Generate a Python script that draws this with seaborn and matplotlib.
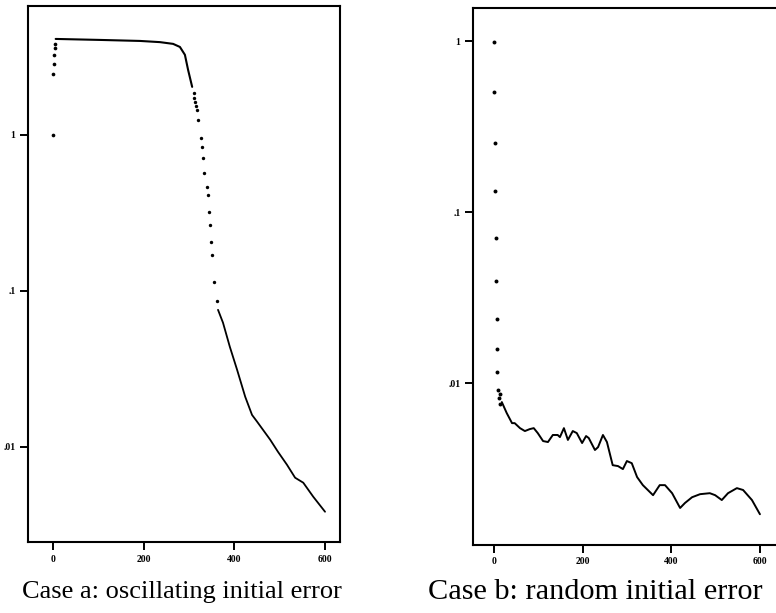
import matplotlib
matplotlib.use("Agg")
import matplotlib.pyplot as plt
import seaborn as sns
import pandas as pd
import numpy as np

# ---------------- data ----------------
# Case a: oscillating initial error
a_start_iter = [0, 1, 2, 3, 4, 5]
a_start_val = [1.0, 2.46, 2.85, 3.26, 3.6, 3.83]

a_plateau_iter = [6, 104, 192, 236, 265, 280, 291, 298, 307]
a_plateau_val = [4.12, 4.06, 4.0, 3.93, 3.83, 3.66, 3.26, 2.61, 2.03]

a_drop_iter = [310, 312, 314, 316, 318, 320, 326, 329, 331, 333, 340, 342,
               344, 346, 349, 351, 355, 362]
a_drop_val = [1.85, 1.72, 1.62, 1.53, 1.45, 1.25, 0.957, 0.838, 0.712, 0.57,
              0.464, 0.41, 0.321, 0.265, 0.206, 0.170, 0.114, 0.0863]

a_tail_iter = [364, 375, 390, 406, 424, 439, 450, 479, 496, 516, 534, 552,
               574, 600]
a_tail_val = [0.0755, 0.0624, 0.0438, 0.0312, 0.0209, 0.016, 0.0145, 0.0111,
              0.0093, 0.00767, 0.00633, 0.00588, 0.00478, 0.00383]

# Case b: random initial error
b_start_iter = [0, 1, 2, 3, 4, 5, 6, 7, 8, 9, 11, 13, 15]
b_start_val = [0.99, 0.503, 0.253, 0.133, 0.0705, 0.0395, 0.0237, 0.0158,
               0.0116, 0.0091, 0.0082, 0.0086, 0.0075]

b_tail_iter = [18, 29, 41, 47, 59, 70, 81, 90, 99, 111, 122, 133, 144, 149,
               158, 167, 178, 187, 199, 208, 214, 228, 235, 246, 255, 268,
               280, 291, 300, 311, 323, 336, 359, 374, 386, 402, 420, 431,
               447, 465, 487, 499, 514, 528, 548, 562, 582, 600]
b_tail_val = [0.00774, 0.00668, 0.00583, 0.00583, 0.00545, 0.00524, 0.00538,
              0.00545, 0.0051, 0.00458, 0.00452, 0.00497, 0.00497, 0.00483,
              0.00545, 0.00465, 0.00524, 0.0051, 0.00446, 0.0049, 0.00477,
              0.00406, 0.00422, 0.00497, 0.00452, 0.00331, 0.00327, 0.00314,
              0.0035, 0.0034, 0.00282, 0.00253, 0.00221, 0.00253, 0.00253,
              0.00227, 0.00186, 0.00199, 0.00215, 0.00224, 0.00227, 0.00221,
              0.00207, 0.00227, 0.00243, 0.00237, 0.00207, 0.00171]

x_ticks = [0, 200, 400, 600]
x_tick_labels = ["0", "200", "400", "600"]
y_ticks = [1, 0.1, 0.01]
y_tick_labels = ["1", ".1", ".01"]
captions = ["Case a: oscillating initial error", "Case b: random initial error"]

# ---------------- plotting ----------------
sns.set_theme(style="ticks")
plt.rcParams["font.family"] = ["Liberation Serif", "DejaVu Serif"]

fig = plt.figure(figsize=(7.76, 6.13), dpi=100)
W, H = 776, 613


def px_axes(left, top, right, bottom):
    return fig.add_axes([left / W, 1 - bottom / H, (right - left) / W, (bottom - top) / H])


ax_a = px_axes(28, 6, 340, 542)
ax_b = px_axes(473, 8, 779, 545)

# Case a
sns.scatterplot(x=a_start_iter, y=a_start_val, ax=ax_a, color="black", s=7,
                linewidth=0)
sns.lineplot(x=a_plateau_iter, y=a_plateau_val, ax=ax_a, color="black",
             linewidth=1.5)
sns.scatterplot(x=a_drop_iter, y=a_drop_val, ax=ax_a, color="black", s=6,
                linewidth=0)
sns.lineplot(x=a_tail_iter, y=a_tail_val, ax=ax_a, color="black",
             linewidth=1.3)
ax_a.set_yscale("log")
ax_a.set_xlim(-55, 633)
ax_a.set_ylim(0.00245, 6.7)

# Case b
sns.scatterplot(x=b_start_iter, y=b_start_val, ax=ax_b, color="black", s=8,
                linewidth=0)
sns.lineplot(x=b_tail_iter, y=b_tail_val, ax=ax_b, color="black",
             linewidth=1.4)
ax_b.set_yscale("log")
ax_b.set_xlim(-47, 643)
ax_b.set_ylim(0.00113, 1.56)

for ax in (ax_a, ax_b):
    ax.set_xticks(x_ticks)
    ax.set_xticklabels(x_tick_labels)
    ax.set_yticks(y_ticks)
    ax.set_yticklabels(y_tick_labels)
    ax.minorticks_off()
    ax.tick_params(axis="both", which="major", direction="out", length=6,
                   width=1.4, color="black", labelsize=7, labelcolor="black",
                   pad=3, bottom=True, left=True, top=False, right=False)
    for lab in ax.get_xticklabels() + ax.get_yticklabels():
        lab.set_fontweight("bold")
    for sp in ax.spines.values():
        sp.set_visible(True)
        sp.set_color("black")
        sp.set_linewidth(1.5)
    ax.set_xlabel("")
    ax.set_ylabel("")
    ax.set_facecolor("white")

fig.text(22 / W, 1 - 592 / H, captions[0], ha="left", va="center",
         fontsize=19, color="black")
fig.text(428 / W, 1 - 592 / H, captions[1], ha="left", va="center",
         fontsize=21.8, color="black")

fig.savefig("out.png", dpi=100, facecolor="white")
